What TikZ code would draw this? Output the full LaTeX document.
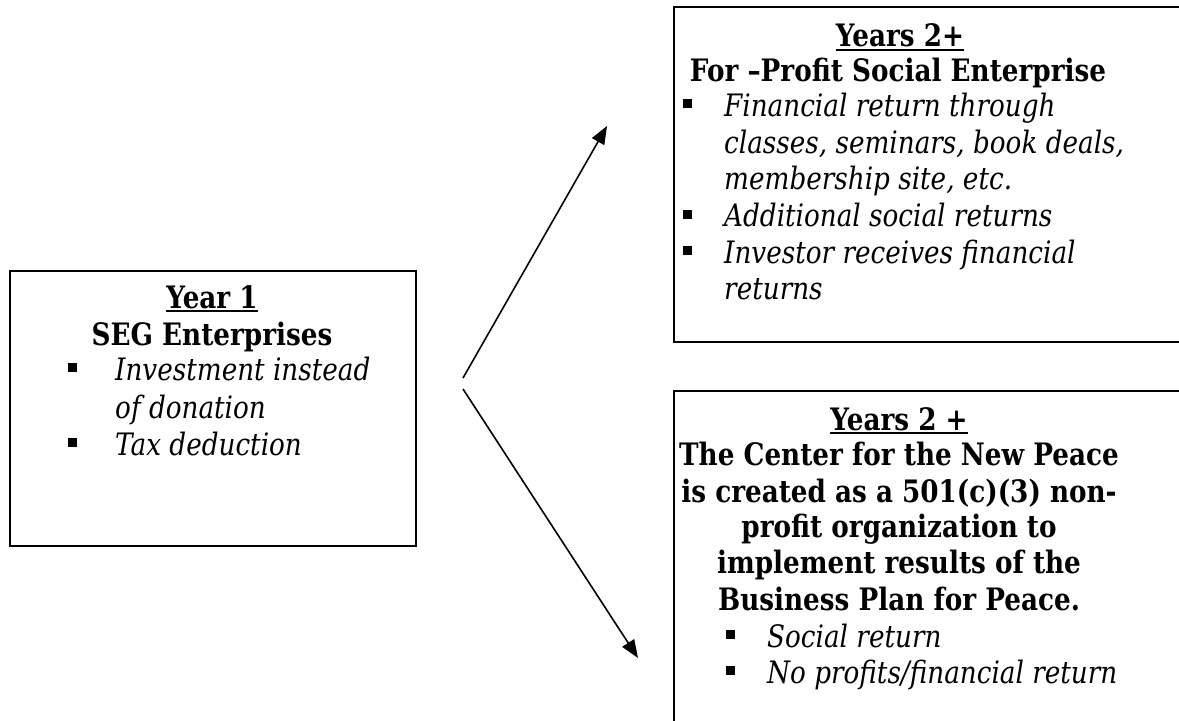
\documentclass[tikz,border=0pt]{standalone}
\usepackage{fontspec}
\setmainfont{DejaVu Serif}[FakeStretch=0.85]
\usetikzlibrary{arrows.meta}
\newcommand{\thickul}[1]{\vtop{\hbox{#1}\kern2bp\hrule height 2bp}}
\begin{document}
\begin{tikzpicture}[x=1bp,y=-1bp,
  boxstyle/.style={draw=black, line width=1.6bp, inner sep=0pt, anchor=north west},
  arrowstyle/.style={line width=1.6bp, -{Triangle[length=18bp,width=14bp]}},
  head/.style={anchor=base, inner sep=0pt, font=\bfseries\fontsize{31}{36}\selectfont},
  item/.style={anchor=base west, inner sep=0pt, font=\itshape\fontsize{31}{36}\selectfont},
  bulletmark/.style={fill=black, minimum size=9bp, inner sep=0pt},
]
\useasboundingbox (0,0) rectangle (1179,721);
\clip (0,0) rectangle (1179,721);
% boxes
\node[boxstyle, minimum width=406bp, minimum height=275bp] (year1) at (9,270) {};
\node[boxstyle, minimum width=520bp, minimum height=335bp] (forprofit) at (673,6) {};
\node[boxstyle, minimum width=520bp, minimum height=360bp] (center) at (673,390) {};
% left box text
\node[head] (y1t) at (212,308) {\thickul{Year 1}};
\node[head] (y1s) at (212,345) {SEG Enterprises};
\node[bulletmark] (y1ba) at (72,367) {};
\node[item] (y1a) at (115,380) {Investment instead};
\node[item] (y1b) at (115,418) {of donation};
\node[bulletmark] (y1bc) at (72,442) {};
\node[item] (y1c) at (115,455) {Tax deduction};
% top right text
\node[head] (fpt) at (900,47) {\thickul{Years 2+}};
\node[head] (fps) at (898,82) {For –Profit Social Enterprise};
\node[bulletmark] (fpba) at (687,104) {};
\node[item] (fpa) at (724,117) {Financial return through};
\node[item] (fpb) at (724,154) {classes, seminars, book deals,};
\node[item] (fpc) at (724,190) {membership site, etc.};
\node[bulletmark] (fpbd) at (687,214) {};
\node[item] (fpd) at (724,227) {Additional social returns};
\node[bulletmark] (fpbe) at (687,250) {};
\node[item] (fpe) at (724,263) {Investor receives financial};
\node[item] (fpf) at (724,299) {returns};
% bottom right text
\node[head] (ct) at (899,430) {\thickul{Years 2 +}};
\node[head] (c1) at (899,465) {The Center for the New Peace};
\node[head] (c2) at (899,502) {is created as a 501(c)(3) non-};
\node[head] (c3) at (899,537) {profit organization to};
\node[head] (c4) at (899,573) {implement results of the};
\node[head] (c5) at (899,610) {Business Plan for Peace.};
\node[bulletmark] (cba) at (730,634) {};
\node[item] (ca) at (767,647) {Social return};
\node[bulletmark] (cbb) at (730,670) {};
\node[item] (cb) at (767,683) {No profits/financial return};
% arrows
\coordinate (fromU) at (463,378);
\coordinate (toU) at (607,126);
\coordinate (fromL) at (463,389);
\coordinate (toL) at (638,658);
\draw[arrowstyle] (fromU) -- (toU);
\draw[arrowstyle] (fromL) -- (toL);
\end{tikzpicture}
\end{document}
